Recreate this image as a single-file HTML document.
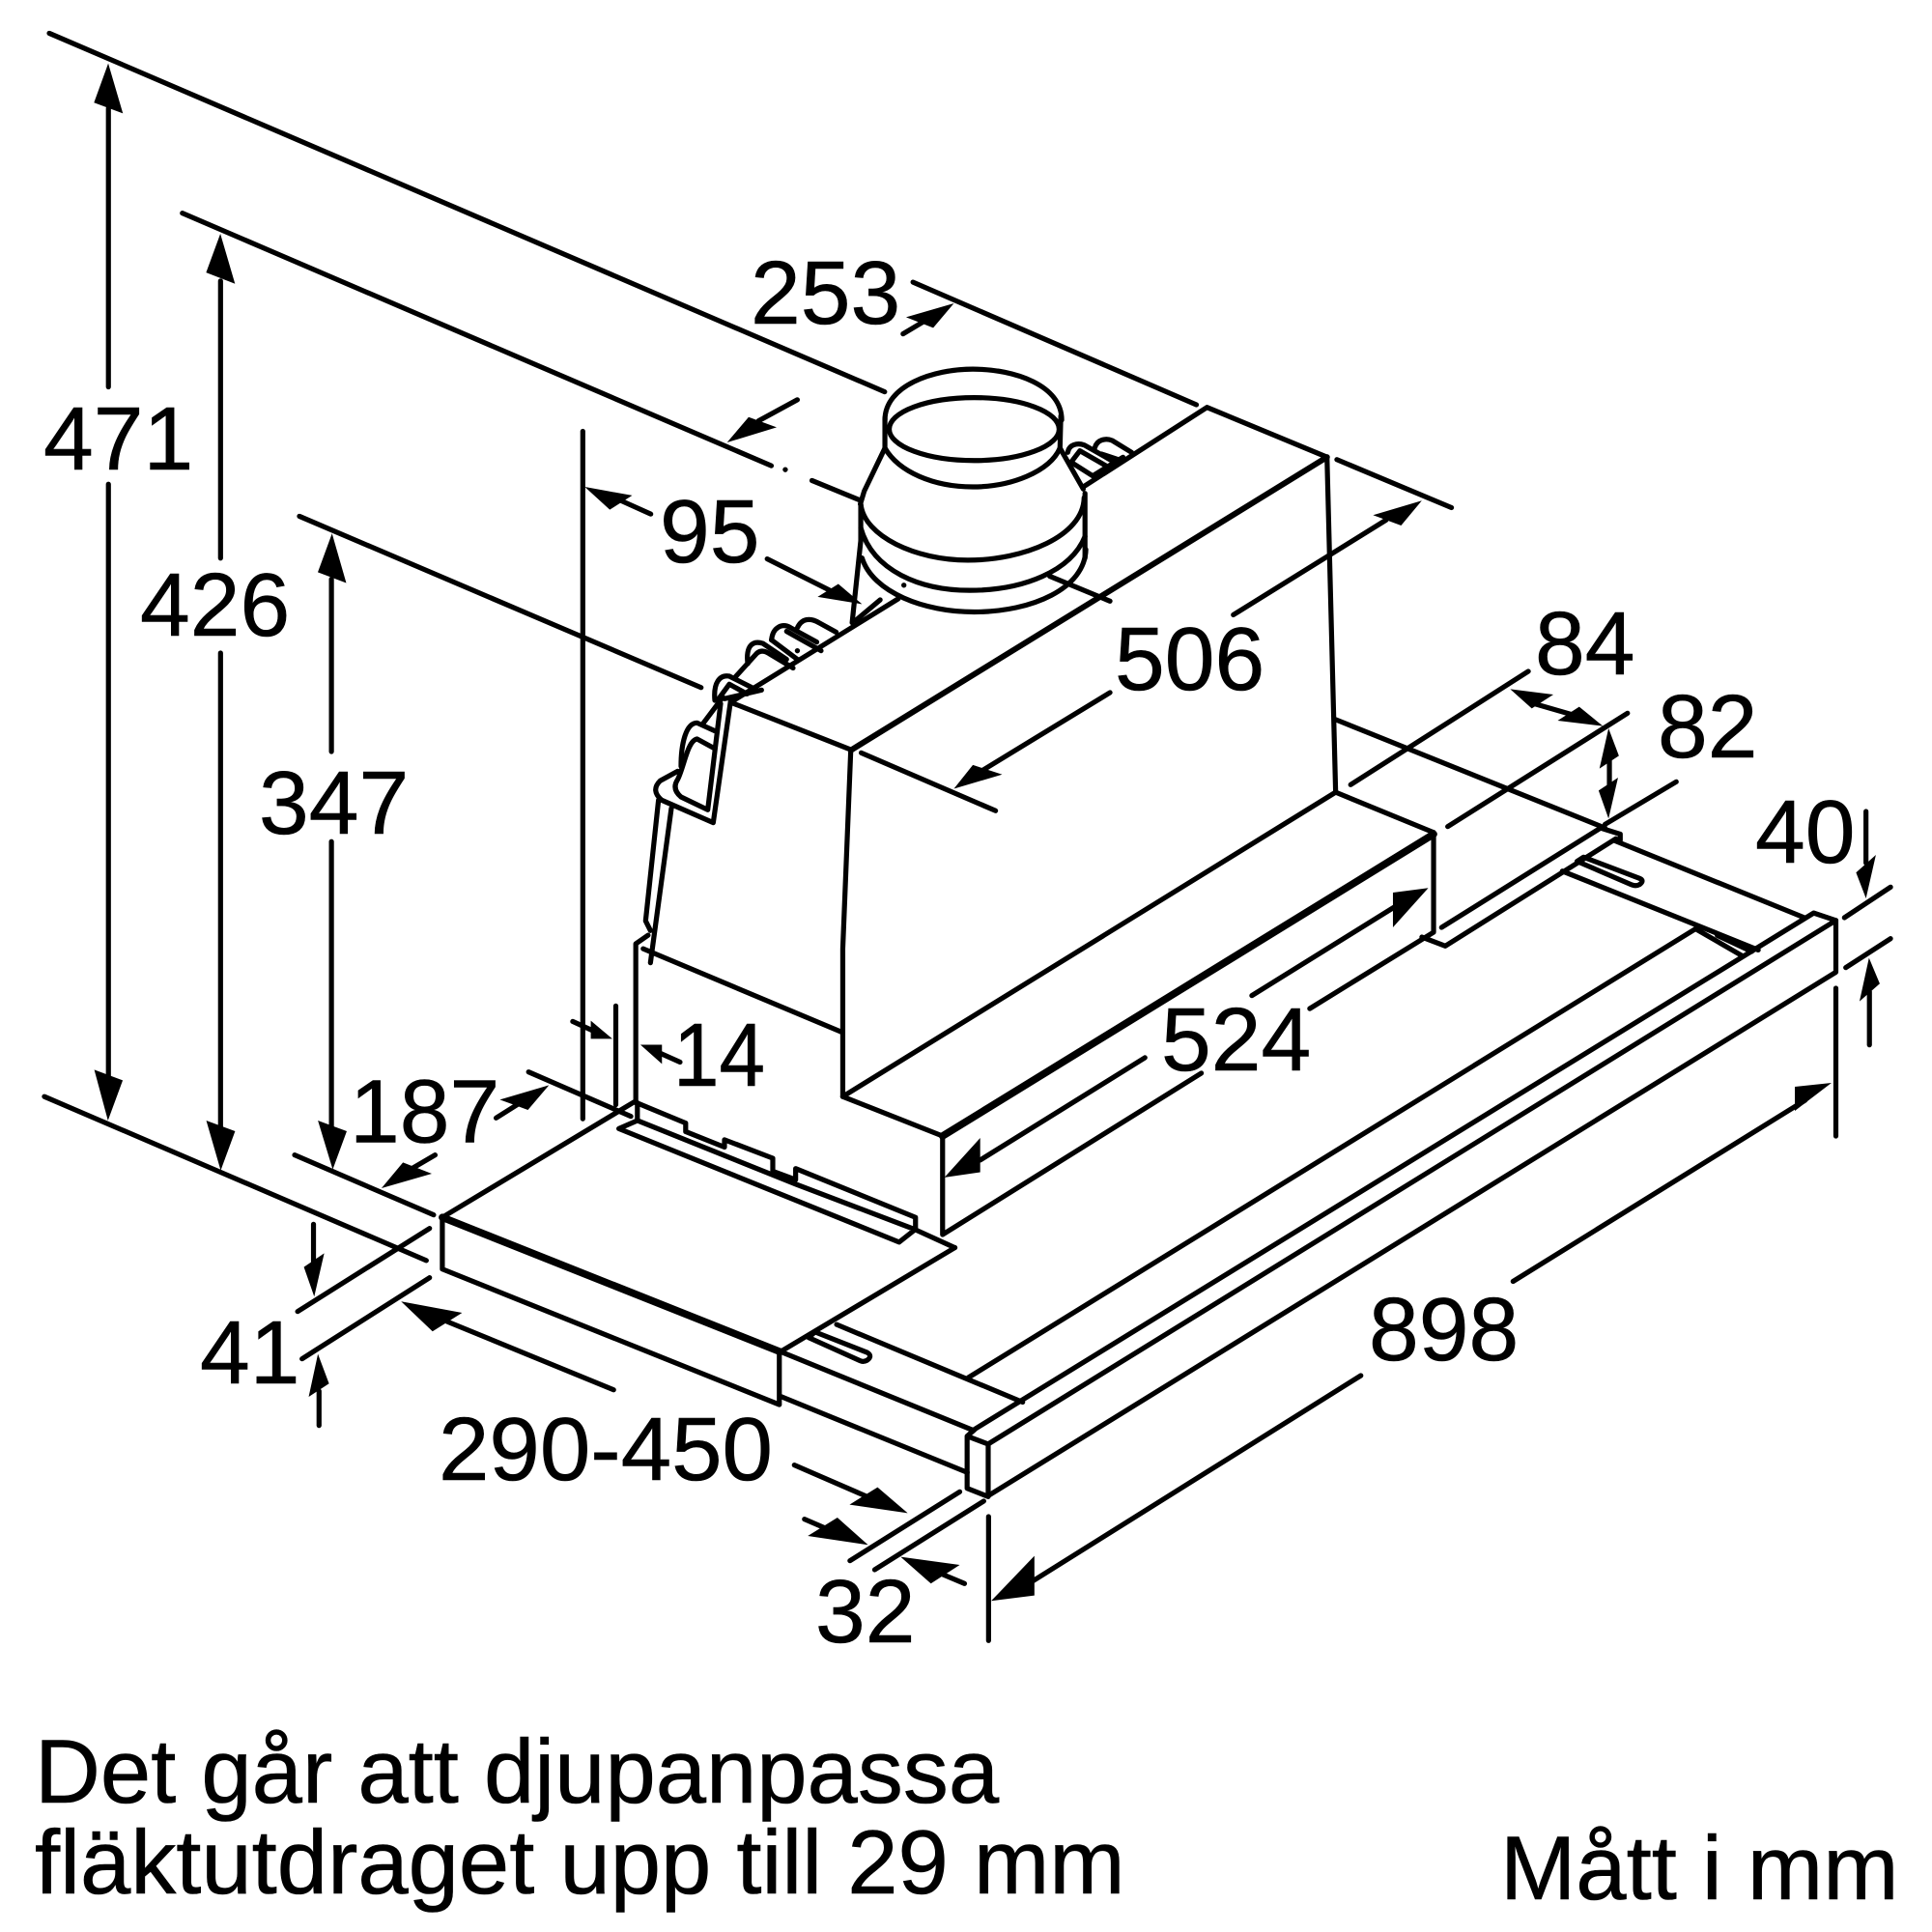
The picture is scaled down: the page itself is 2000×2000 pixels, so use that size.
<!DOCTYPE html>
<html><head><meta charset="utf-8">
<style>
html,body{margin:0;padding:0;background:#fff;width:2000px;height:2000px;overflow:hidden}
svg{display:block}
path,line,polyline,ellipse{vector-effect:non-scaling-stroke;fill:none;stroke:#000;stroke-width:5.2;stroke-linecap:round;stroke-linejoin:round}
polygon{fill:#000;stroke:none}
.th{stroke-width:7.6}
.md{stroke-width:6}
text{font-family:"Liberation Sans",Arial,sans-serif;font-size:93px;fill:#000;stroke:#000;stroke-width:.6}
.b{font-size:94px}
</style></head><body>
<svg width="2000" height="2000" viewBox="0 0 2000 2000" xmlns="http://www.w3.org/2000/svg">
<rect width="2000" height="2000" fill="#fff"/>

<!-- long lines in overview coordinates -->
<g transform="scale(1.2755)">
<path d="M40,27 L718,318"/>
<path d="M148,173 L626,378 M659,390 L698,406"/>
<path d="M243,419 L569,558"/>
<path d="M473,350 V908"/>
<path d="M88,88 V314 M88,393 V880"/>
<path d="M179,228 V453 M179,530 V920"/>
<path d="M269,470 V610 M269,683 V920"/>
<path d="M36,890 L346,1023"/>
<path d="M741,229 L971,328.5"/>
<path d="M1085,373 L1178,412"/>
<path d="M699,611 L808,658"/>
<!-- hood -->
<path d="M593,570 L729,486"/>
<path d="M880,394.6 L979.6,330.6 L1077,371"/>
<path class="md" d="M691,608.6 L1077,371"/>
<path d="M593,570 L691,608.6"/>
<path d="M690.5,608.6 L684,770 V890"/>
<path d="M1077,371 L1084,643"/>
<path d="M684,890 L1084,643"/>
<path d="M1084,643 L1163.5,675.6"/>
<path d="M1084,584 L1302.7,672"/>
<path d="M1309.7,682 L1465,745"/>
<path class="th" d="M765,922 L1163.5,677"/>
<path d="M684,890 L765,922 V1002 L975,871"/>
<path d="M1063,818.6 L1163.5,756.6 V675.6"/>
<path d="M1170,752.7 L1299,672 L1315,677 V682"/>
<path d="M1154,760.5 L1173,767.8 L1311.5,680.7"/>
<path d="M1268,707 L1427,771"/>
<!-- rails -->
<path d="M786,1118 L1378,752.7"/>
<path d="M791,1160 L1472,741 L1490,747"/>
<path d="M802,1172 L1490,747 V789 L802,1214"/>
<path d="M1490,802 V922"/>
<path d="M679,1075 L830,1138"/>
<path d="M633.5,1097 L789,1160.5"/>
<path d="M634,1133.5 L785,1195"/>
<!-- table -->
<path d="M775,1012.6 L633.5,1097"/>
<path d="M742,997.6 L775,1012.6"/>
<path d="M359,988 L514.6,894.4"/>
<path class="th" d="M359,988 L633,1097"/>
<path d="M359,988 V1030 L632.5,1140 V1097"/>
<path d="M363,1072.6 L498,1128"/>
<!-- pillar -->
<path d="M516,766 V895 M516,766 L526,759"/>
<path d="M522,770 L684,838"/>
<path d="M429,870 L512,906"/>
<!-- dimension shafts -->
<path d="M1001,499 L1125,422"/>
<path d="M1016,808 L1140,731"/>
<path d="M1228,1040 L1465,893"/>
</g>

<!-- Z8 arrowheads upper-left -->
<g transform="scale(.4464)">
<polygon points="251,147 218,238 285,263"/>
<polygon points="511,542 478,632 545,658"/>
<polygon points="770,1237 737,1327 803,1352"/>
</g>

<!-- Z6 lower-left -->
<g transform="translate(0 1100) scale(.3827 .3333)">
<polygon points="292,180 255,22 332,55"/>
<polygon points="597,335 558,180 636,213"/>
<polygon points="900,332 860,180 938,213"/>
<path d="M797,287 L1173,473"/>
<path d="M1177,287 L1110,332"/>
<polygon points="1032,390 1090,310 1168,345"/>
<path d="M1342,172 L1400,130"/>
<polygon points="1485,70 1352,115 1428,147"/>
<path d="M848,502 V620"/>
<polygon points="850,727 822,635 877,592"/>
<path d="M805,773 L1162,515"/>
<path d="M817,920 L1162,668"/>
<path d="M863,1127 V1020"/>
<polygon points="860,905 835,1038 890,997"/>
<polygon points="1085,742 1170,835 1250,777"/>
</g>

<!-- Z7 253 arrow, clip -->
<g transform="translate(850 250) scale(.4464 .3333)">
<path d="M190,287 L240,247"/>
<polygon points="308,192 197,235 260,268"/>
<polygon points="1393,805 1280,850 1345,882"/>
<path d="M572,655 C575,630 595,625 610,632 L680,685"/>
<path d="M635,640 C640,615 660,610 675,618 L720,655"/>
<path d="M580,685 L600,650 L665,700 M585,690 L630,728 L700,670"/>
<path d="M650,660 L695,680"/>
</g>

<!-- Z1 duct and local arrows -->
<g transform="translate(600 350) scale(.4464)">
<circle cx="477" cy="305" r="6" fill="#000"/>
<path d="M505,143 L415,192"/>
<polygon points="342,242 392,183 457,207"/>
<path d="M165,408 L85,372"/>
<polygon points="12,345 70,398 122,365"/>
<path d="M435,512 L600,595"/>
<polygon points="655,617 600,570 552,600"/>
<path d="M1230,822 L930,1005"/>
<polygon points="868,1045 912,990 980,1012"/>
<path d="M708,190 C708,110 820,72 912,72 C1010,72 1118,110 1118,190"/>
<ellipse cx="915" cy="211" rx="197" ry="73"/>
<path d="M708,185 V255 M1116,180 L1114,255"/>
<path d="M708,255 C740,310 820,345 912,345 C1000,345 1090,310 1114,255"/>
<path d="M708,255 L660,355 L651,385 M1114,255 L1168,350"/>
<path d="M652,385 C660,460 780,515 900,515 C1030,515 1168,460 1170,370"/>
<path d="M652,385 V470 M1172,360 V510"/>
<path d="M652,440 C680,540 790,585 905,585 C1030,585 1140,540 1172,460"/>
<path d="M655,510 C680,590 800,635 915,635 C1050,635 1172,580 1174,490"/>
<path d="M652,470 L632,660"/>
<circle cx="752" cy="573" r="6" fill="#000"/>
<path d="M1090,552 L1230,610"/>
<path d="M640,655 L697,607"/>
<path d="M445,700 C448,670 470,660 490,672 L550,705"/>
<path d="M505,672 C515,650 535,648 555,660 L595,682"/>
<path d="M390,755 C385,715 400,700 425,708 L480,745"/>
<path d="M362,785 L410,732 Q422,720 440,732 L495,765"/>
<path d="M445,700 L505,745 M480,680 L560,725"/>
<circle cx="505" cy="725" r="6" fill="#000"/>
</g>

<!-- Z9 latch -->
<g transform="translate(640 620) scale(.3333)">
<path d="M350,310 L295,695 L135,625 Q100,595 130,565 L185,535"/>
<path d="M318,325 L278,655 L195,615 Q165,590 185,560 C205,520 215,440 245,435 L300,465"/>
<path d="M195,520 C195,450 210,385 245,385 L300,410"/>
<path d="M265,385 L325,305"/>
<path d="M125,625 L85,1000 L100,1030"/>
<path d="M165,650 L100,1130"/>
<path d="M300,315 C295,260 315,235 345,240 L415,275"/>
<path d="M312,310 L345,265 L400,295"/>
<path d="M330,310 L445,283"/>
</g>

<!-- Z2 centre -->
<g transform="translate(500 1000) scale(.4464 .3827)">
<path d="M308,108 V375"/>
<path d="M208,150 L255,175"/>
<polygon points="300,197 250,197 250,148"/>
<path d="M457,260 L405,233"/>
<polygon points="365,213 415,213 415,265"/>
<path d="M352,368 L470,425 V448 L560,490 V470 L672,520 V555 L725,578 V548 L1003,680 V712 L965,747 L315,440 L358,418 L725,590 L1000,712"/>
<path d="M358,370 V418"/>
<path d="M770,990 L890,1045 Q905,1055 890,1067 Q882,1072 875,1068 L755,1005 L770,990"/>
<path d="M1153,525 L1535,248"/>
<polygon points="1070,572 1153,465 1153,558"/>
<path d="M722,1350 L900,1440"/>
<polygon points="985,1480 915,1410 850,1457"/>
</g>

<!-- Z3 right -->
<g transform="translate(1300 650) scale(.4464 .3333)">
<path d="M760,712 L890,778 Q902,785 890,797 Q882,803 872,798 L745,725 L760,712"/>
<path d="M1020,935 L1130,1020"/>
<path d="M1070,955 L1150,1005"/>
<path d="M220,487 L632,135"/>
<path d="M445,617 L862,265"/>
<path d="M810,610 L975,478"/>
<path d="M645,235 L740,272"/>
<polygon points="590,190 640,250 690,207"/>
<polygon points="805,305 750,245 700,288"/>
<path d="M820,400 V490"/>
<polygon points="818,312 797,437 842,397"/>
<polygon points="818,592 795,505 840,465"/>
<path d="M1415,570 V730"/>
<polygon points="1415,840 1392,760 1438,705"/>
<path d="M1365,900 L1472,805"/>
<path d="M1368,1055 L1472,965"/>
<path d="M1423,1295 V1130"/>
<polygon points="1422,1025 1400,1160 1447,1105"/>
<polygon points="400,808 318,822 318,930"/>
<polygon points="1335,1413 1250,1425 1250,1500"/>
</g>

<!-- Z5 bottom right -->
<g transform="translate(850 1350) scale(.3827 .3333)">
<path d="M-45,668 L60,720"/>
<polygon points="127,748 44,663 -36,720"/>
<path d="M78,797 L375,583"/>
<path d="M145,825 L440,612"/>
<path d="M453,660 V1045"/>
<polygon points="215,785 297,868 375,810"/>
<path d="M330,840 L388,868"/>
<polygon points="460,922 577,782 577,905"/>
<path d="M570,862 L1460,222"/>
<path d="M395,410 V572 L452,598 V435 L395,410 L415,390"/>
</g>

<!-- texts -->
<text x="45" y="486">471</text>
<text x="145" y="658">426</text>
<text x="268" y="863">347</text>
<text x="777" y="335">253</text>
<text x="683" y="582">95</text>
<text x="1154" y="714">506</text>
<text x="1589" y="698">84</text>
<text x="1716" y="784">82</text>
<text x="1817" y="893">40</text>
<text x="697" y="1124" textLength="95" lengthAdjust="spacingAndGlyphs">14</text>
<text x="362" y="1182.7">187</text>
<text x="1202" y="1108">524</text>
<text x="207" y="1432">41</text>
<text x="454" y="1532" textLength="346" lengthAdjust="spacingAndGlyphs">290-450</text>
<text x="1417" y="1408">898</text>
<text x="844" y="1700">32</text>
<text class="b" x="36" y="1866">Det går att djupanpassa</text>
<text class="b" x="36" y="1960">fläktutdraget upp till 29 mm</text>
<text class="b" x="1553" y="1966">Mått i mm</text>
</svg>
</body></html>
